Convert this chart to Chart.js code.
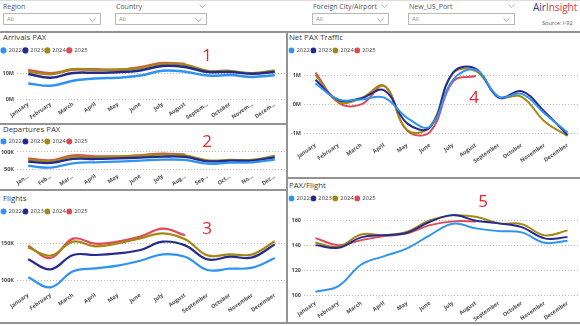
<!DOCTYPE html>
<html>
<head>
<meta charset="utf-8">
<script src="https://cdn.jsdelivr.net/npm/chart.js@4.4.1/dist/chart.umd.min.js"></script>
<style>
  body { margin: 0; width: 580px; height: 326px; overflow: hidden; background: #fff; position: relative;
         font-family: "Open Sans", "DejaVu Sans", sans-serif; }
  .abs { position: absolute; }
  .lbl { font-size: 7px; color: #555; white-space: nowrap; }
  .box { border: 1px solid #b8b8b8; height: 12px; box-sizing: border-box; font-size: 6px; color: #888; line-height: 11px; padding-left: 3px; }
  .box svg { position: absolute; right: 4px; top: 4px; }
  .rule { position: absolute; background: #939393; }
  .title { position: absolute; font-size: 7.8px; color: #3a3a3a; white-space: nowrap; line-height: 10px; }
  .mark { position: absolute; font-size: 17px; color: #e5262d; line-height: 20px; transform: translate(-50%, -50%); }
  canvas { position: absolute; }
</style>
</head>
<body>

<!-- slicer row -->
<div class="abs lbl" style="left:3px;top:2px">Region</div>
<div class="abs box" style="left:3px;top:13px;width:98px">All<svg width="7" height="4"><polyline points="0.5,0.5 3.5,3.5 6.5,0.5" fill="none" stroke="#999" stroke-width="0.8"/></svg></div>

<div class="abs lbl" style="left:116px;top:2px">Country</div>
<svg class="abs" style="left:199px;top:4px" width="7" height="4"><polyline points="0.5,0.5 3.5,3.5 6.5,0.5" fill="none" stroke="#aaa" stroke-width="0.8"/></svg>
<div class="abs box" style="left:115px;top:13px;width:92px">All<svg width="7" height="4"><polyline points="0.5,0.5 3.5,3.5 6.5,0.5" fill="none" stroke="#999" stroke-width="0.8"/></svg></div>

<div class="abs lbl" style="left:313px;top:2px">Foreign City/Airport</div>
<svg class="abs" style="left:381px;top:4px" width="7" height="4"><polyline points="0.5,0.5 3.5,3.5 6.5,0.5" fill="none" stroke="#aaa" stroke-width="0.8"/></svg>
<div class="abs box" style="left:312px;top:13px;width:77px">All<svg width="7" height="4"><polyline points="0.5,0.5 3.5,3.5 6.5,0.5" fill="none" stroke="#999" stroke-width="0.8"/></svg></div>

<div class="abs lbl" style="left:409px;top:2px">New_US_Port</div>
<svg class="abs" style="left:508px;top:4px" width="7" height="4"><polyline points="0.5,0.5 3.5,3.5 6.5,0.5" fill="none" stroke="#aaa" stroke-width="0.8"/></svg>
<div class="abs box" style="left:408px;top:13px;width:107px">All<svg width="7" height="4"><polyline points="0.5,0.5 3.5,3.5 6.5,0.5" fill="none" stroke="#999" stroke-width="0.8"/></svg></div>

<div class="abs" style="left:533px;top:1px;font-size:10px;line-height:13px;white-space:nowrap"><span style="color:#2c3a8e">Air</span><span style="color:#e0313b">Insight</span></div>
<div class="abs" style="left:542px;top:19px;font-size:5.6px;color:#555;white-space:nowrap">Source: I-92</div>

<!-- panel frames -->
<div class="rule" style="left:0;top:0;width:580px;height:1px;background:#ddd"></div>
<div class="rule" style="left:0;top:31px;width:580px;height:2px"></div>
<div class="rule" style="left:286px;top:31px;width:2px;height:293px"></div>
<div class="rule" style="left:0;top:123px;width:286px;height:2px"></div>
<div class="rule" style="left:0;top:189px;width:286px;height:2px"></div>
<div class="rule" style="left:288px;top:177px;width:292px;height:2px"></div>
<div class="rule" style="left:0;top:322px;width:580px;height:2px"></div>

<div class="title" style="left:3px;top:32px">Arrivals PAX</div>
<div class="title" style="left:3px;top:124px">Departures PAX</div>
<div class="title" style="left:3px;top:193px">Flights</div>
<div class="title" style="left:289px;top:32px">Net PAX Traffic</div>
<div class="title" style="left:289px;top:180px">PAX/Flight</div>

<canvas id="arrivals" width="286" height="76" style="left:0;top:46px"></canvas>
<canvas id="departures" width="286" height="51" style="left:0;top:137px"></canvas>
<canvas id="flights" width="286" height="115" style="left:0;top:207px"></canvas>
<canvas id="netPax" width="291" height="130" style="left:288px;top:46px"></canvas>
<canvas id="paxFlight" width="291" height="128" style="left:288px;top:194px"></canvas>

<div class="mark" style="left:207px;top:55px">1</div>
<div class="mark" style="left:207px;top:141px">2</div>
<div class="mark" style="left:207px;top:228px">3</div>
<div class="mark" style="left:474px;top:97px">4</div>
<div class="mark" style="left:483px;top:201px">5</div>

<script>
const months = ['January', 'February', 'March', 'April', 'May', 'June', 'July', 'August', 'September', 'October', 'November', 'December'];
const years = ['2022', '2023', '2024', '2025'];
const yearColors = ['#2f93f2', '#252a90', '#a38913', '#e04a57'];

// axis labels as shown (narrow panels truncate)
const arrivalsTicks = ['January', 'February', 'March', 'April', 'May', 'June', 'July', 'August', 'Septem…', 'October', 'Novem…', 'Decem…'];
const departuresTicks = ['Jan…', 'Feb…', 'Mar…', 'April', 'May', 'June', 'July', 'Aug…', 'Sep…', 'Oct…', 'No…', 'Dec…'];
const monthTicks = months;

// Arrivals PAX (millions)
const arrivals2022 = [6.0, 5.1, 7.0, 7.9, 8.2, 9.0, 10.9, 10.5, 9.0, 9.2, 8.5, 9.1];
const arrivals2023 = [9.6, 8.2, 10.0, 10.1, 10.3, 11.0, 12.7, 12.3, 10.4, 10.4, 9.7, 10.4];
const arrivals2024 = [10.6, 9.5, 11.4, 11.2, 11.3, 11.9, 13.6, 13.2, 10.8, 10.8, 9.9, 11.0];
const arrivals2025 = [11.2, 9.9, 11.3, 11.4, 11.2, 12.2, 13.8, 13.5];

// Departures PAX (thousands)
const departures2022 = [59.6, 54.8, 67.3, 70.2, 72.1, 75.0, 77.9, 76.9, 66.3, 69.2, 70.2, 77.9];
const departures2023 = [72.1, 68.3, 79.8, 79.8, 81.7, 83.7, 86.5, 85.6, 73.1, 75.0, 75.0, 84.6];
const departures2024 = [77.9, 74.0, 86.5, 84.6, 86.5, 89.4, 93.3, 90.4, 76.0, 76.9, 76.9, 88.5];
const departures2025 = [81.7, 76.0, 90.4, 87.5, 87.5, 90.4, 95.2, 92.3];

// Flights (thousands)
const flights2022 = [104.5, 91.0, 112.6, 116.7, 120.3, 127.0, 135.6, 132.4, 114.4, 116.2, 117.6, 130.6];
const flights2023 = [128.8, 115.3, 134.7, 134.7, 136.9, 141.4, 152.7, 147.7, 128.8, 132.4, 131.5, 149.1];
const flights2024 = [145.0, 133.8, 152.7, 146.4, 150.5, 157.2, 164.0, 155.9, 134.2, 135.6, 135.6, 153.2];
const flights2025 = [147.3, 130.6, 156.8, 150.0, 152.7, 159.5, 170.3, 161.3];

// Net PAX traffic (millions)
const netPax2022 = [0.73, 0.18, 0.18, 0.24, -0.45, -0.75, 0.85, 1.19, 0.27, 0.37, -0.30, -0.95];
const netPax2023 = [0.85, 0.16, 0.22, 0.49, -0.64, -0.78, 1.10, 1.23, 0.24, 0.46, -0.24, -1.04];
const netPax2024 = [1.02, 0.10, 0.22, 0.64, -0.87, -0.75, 1.07, 1.15, 0.27, 0.27, -0.58, -1.07];
const netPax2025 = [1.10, 0.07, 0.01, 0.64, -0.89, -0.93, 0.79, 0.98];

// PAX per flight
const paxFlight2022 = [103.2, 107.7, 125.0, 131.7, 137.9, 148.5, 157.6, 153.9, 151.7, 150.7, 142.4, 144.0];
const paxFlight2023 = [140.5, 138.4, 146.7, 148.5, 150.4, 159.2, 164.5, 160.0, 157.9, 154.9, 145.9, 146.9];
const paxFlight2024 = [142.4, 139.2, 149.0, 148.5, 151.2, 160.5, 164.3, 163.2, 157.9, 157.3, 148.3, 152.3];
const paxFlight2025 = [146.1, 140.5, 144.5, 147.7, 149.9, 156.5, 159.5, 159.5];

// legend box gets a fixed height so the plot area lands where we want it
function legendHeight(h) {
  return {
    id: 'legendHeight',
    beforeInit(chart) {
      const fit = chart.legend.fit;
      chart.legend.fit = function () { fit.call(this); this.height = h; };
    }
  };
}

const tickFont = { family: '"Open Sans", "DejaVu Sans", sans-serif', size: 5.5, weight: 'bold' };

function lineChart(id, xLabels, valueSets, y, box) {
  new Chart(document.getElementById(id), {
    type: 'line',
    data: {
      labels: months,
      datasets: valueSets.map((vals, i) => ({
        label: years[i],
        data: vals,
        borderColor: yearColors[i],
        backgroundColor: yearColors[i],
        borderWidth: box.line,
        pointRadius: 0,
        tension: 0.4,
        clip: false
      }))
    },
    options: {
      responsive: false,
      animation: false,
      devicePixelRatio: 1,
      layout: { padding: 0 },
      plugins: {
        tooltip: { enabled: false },
        legend: {
          position: 'top',
          align: 'start',
          labels: {
            usePointStyle: true,
            pointStyle: 'circle',
            boxWidth: 4,
            boxHeight: 2.6,
            padding: 1.5,
            color: '#444',
            font: { family: '"Open Sans", "DejaVu Sans", sans-serif', size: 5.9 }
          }
        }
      },
      scales: {
        x: {
          offset: true,
          grid: { display: false, drawTicks: false },
          border: { display: false },
          ticks: {
            autoSkip: false, minRotation: 35, maxRotation: 35, padding: 2,
            color: '#4a4a4a', font: tickFont,
            callback: (v, i) => xLabels[i]
          },
          afterFit: s => { s.height = box.x; }
        },
        y: {
          min: y.min,
          max: y.max,
          grid: { color: '#b9b9b9', lineWidth: 1, drawTicks: false },
          border: { display: false, dash: [1, 2] },
          ticks: {
            autoSkip: false, padding: 3, color: '#4a4a4a', font: tickFont,
            callback: v => y.fmt(v)
          },
          // only the round steps get a label and a dotted line
          afterBuildTicks: s => {
            const ticks = [];
            for (let v = Math.ceil(y.min / y.step) * y.step; v <= y.max; v += y.step) ticks.push({ value: v });
            s.ticks = ticks;
          },
          afterFit: s => { s.width = box.y; }
        }
      }
    },
    plugins: [legendHeight(box.legend)]
  });
}

lineChart('arrivals', arrivalsTicks,
  [arrivals2022, arrivals2023, arrivals2024, arrivals2025],
  { min: 0, max: 15, step: 10, fmt: v => v + 'M' },
  { legend: 14, x: 23, y: 17, line: 2.5 });

lineChart('departures', departuresTicks,
  [departures2022, departures2023, departures2024, departures2025],
  { min: 45, max: 117.3, step: 50, fmt: v => v + 'K' },
  { legend: 9, x: 17, y: 17, line: 2.3 });

lineChart('flights', monthTicks,
  [flights2022, flights2023, flights2024, flights2025],
  { min: 87.4, max: 184.7, step: 50, fmt: v => v + 'K' },
  { legend: 11, x: 32, y: 17, line: 2.2 });

lineChart('netPax', monthTicks,
  [netPax2022, netPax2023, netPax2024, netPax2025],
  { min: -1.21, max: 1.53, step: 1, fmt: v => Math.round(v) + 'M' },
  { legend: 14, x: 36, y: 16, line: 2 });

lineChart('paxFlight', monthTicks,
  [paxFlight2022, paxFlight2023, paxFlight2024, paxFlight2025],
  { min: 98.2, max: 171.8, step: 20, fmt: v => String(Math.round(v)) },
  { legend: 12, x: 24, y: 16, line: 2 });
</script>
</body>
</html>
